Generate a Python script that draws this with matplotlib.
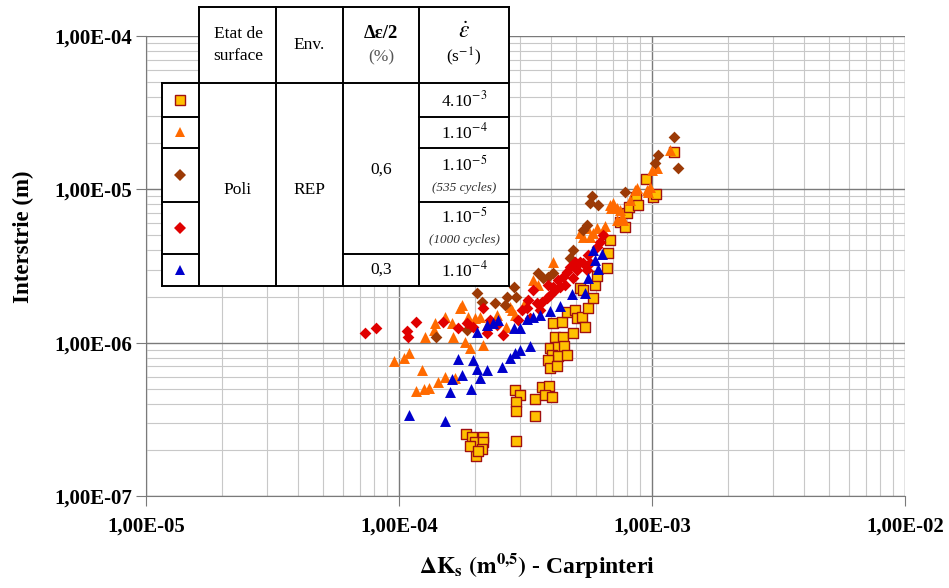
import numpy as np
import matplotlib.pyplot as plt
from matplotlib.ticker import LogLocator, FuncFormatter, NullFormatter
from matplotlib.lines import Line2D

plt.rcParams['font.family'] = 'Liberation Serif'
plt.rcParams['mathtext.fontset'] = 'stix'

# 4.10-3 s-1 (squares)
x_sq = [1.84e-4, 1.94e-4, 2.00e-4, 2.15e-4, 2.15e-4, 2.13e-4, 2.02e-4, 1.91e-4, 2.05e-4,
        2.90e-4, 2.87e-4, 3.01e-4, 2.90e-4, 2.90e-4, 3.45e-4, 3.45e-4,
        3.68e-4, 3.92e-4, 3.78e-4, 4.03e-4,
        3.95e-4, 4.14e-4, 4.45e-4, 4.87e-4, 4.06e-4, 4.41e-4, 4.61e-4, 4.96e-4, 5.05e-4,
        4.25e-4, 4.49e-4, 4.03e-4, 4.25e-4, 4.61e-4, 3.88e-4, 3.95e-4, 4.22e-4,
        5.29e-4, 5.44e-4, 5.59e-4, 5.85e-4, 5.95e-4, 6.06e-4, 5.19e-4, 5.34e-4,
        6.64e-4, 6.70e-4, 6.82e-4,
        7.47e-4, 7.82e-4, 7.96e-4, 8.10e-4, 8.65e-4, 8.80e-4, 9.47e-4, 1.01e-3, 1.04e-3,
        1.22e-3]
y_sq = [2.54e-7, 2.43e-7, 2.25e-7, 2.43e-7, 2.25e-7, 2.02e-7, 1.82e-7, 2.12e-7, 1.96e-7,
        2.29e-7, 4.90e-7, 4.55e-7, 4.10e-7, 3.60e-7, 4.30e-7, 3.32e-7,
        5.15e-7, 5.20e-7, 4.55e-7, 4.40e-7,
        9.20e-7, 1.09e-6, 1.09e-6, 1.16e-6, 1.34e-6, 1.36e-6, 1.58e-6, 1.63e-6, 1.44e-6,
        9.40e-7, 9.50e-7, 8.30e-7, 8.20e-7, 8.30e-7, 7.70e-7, 6.80e-7, 7.00e-7,
        1.47e-6, 1.26e-6, 1.68e-6, 1.96e-6, 2.38e-6, 2.72e-6, 2.28e-6, 2.21e-6,
        3.07e-6, 3.85e-6, 4.67e-6,
        6.10e-6, 5.68e-6, 7.00e-6, 7.70e-6, 8.90e-6, 7.90e-6, 1.17e-5, 8.90e-6, 9.30e-6,
        1.75e-5]

# 1.10-4 s-1, 0,6 % (orange triangles)
x_or = [9.55e-5, 1.05e-4, 1.10e-4, 1.23e-4, 1.17e-4, 1.25e-4, 1.31e-4, 1.42e-4, 1.52e-4, 1.66e-4,
        1.27e-4, 1.37e-4, 1.39e-4, 1.52e-4, 1.62e-4, 1.77e-4, 1.87e-4, 1.63e-4, 1.82e-4, 1.91e-4,
        2.00e-4, 2.09e-4, 2.15e-4, 1.74e-4, 1.96e-4, 2.23e-4, 2.44e-4, 2.75e-4, 2.80e-4, 2.87e-4,
        2.65e-4, 3.15e-4, 3.38e-4, 3.53e-4, 4.06e-4,
        5.19e-4, 5.34e-4, 5.54e-4, 5.69e-4, 5.85e-4, 6.06e-4, 6.40e-4, 6.52e-4,
        6.82e-4, 7.00e-4, 7.27e-4, 7.47e-4, 6.88e-4, 7.61e-4, 7.27e-4, 7.68e-4,
        8.18e-4, 8.57e-4, 8.73e-4, 9.56e-4, 9.82e-4, 9.65e-4, 1.00e-3, 1.05e-3, 1.18e-3]
y_or = [7.60e-7, 7.90e-7, 8.60e-7, 6.60e-7, 4.83e-7, 4.98e-7, 5.07e-7, 5.50e-7, 5.95e-7, 5.90e-7,
        1.09e-6, 1.21e-6, 1.34e-6, 1.47e-6, 1.34e-6, 1.76e-6, 1.47e-6, 1.09e-6, 1.01e-6, 9.20e-7,
        1.44e-6, 1.47e-6, 9.60e-7, 1.68e-6, 1.30e-6, 1.30e-6, 1.51e-6, 1.71e-6, 1.63e-6, 1.51e-6,
        1.26e-6, 1.85e-6, 2.56e-6, 2.38e-6, 3.36e-6,
        5.20e-6, 4.90e-6, 5.60e-6, 4.90e-6, 5.20e-6, 5.60e-6, 5.43e-6, 5.75e-6,
        7.90e-6, 8.20e-6, 7.60e-6, 7.30e-6, 7.60e-6, 6.60e-6, 6.30e-6, 6.30e-6,
        8.50e-6, 9.90e-6, 1.02e-5, 9.90e-6, 1.04e-5, 9.60e-6, 1.34e-5, 1.37e-5, 1.80e-5]

# 1.10-5 s-1, 535 cycles (brown diamonds)
x_br = [1.40e-4, 1.86e-4, 2.04e-4, 2.13e-4, 2.40e-4, 2.62e-4, 2.67e-4, 2.85e-4, 2.90e-4,
        3.55e-4, 3.71e-4, 3.88e-4, 4.06e-4, 4.74e-4, 4.87e-4, 5.34e-4, 5.54e-4,
        5.69e-4, 5.80e-4, 6.11e-4, 7.82e-4, 1.03e-3, 1.06e-3, 1.22e-3, 1.27e-3]
y_br = [1.09e-6, 1.21e-6, 2.11e-6, 1.85e-6, 1.82e-6, 1.76e-6, 1.99e-6, 2.31e-6, 1.99e-6,
        2.85e-6, 2.64e-6, 2.68e-6, 2.85e-6, 3.57e-6, 4.02e-6, 5.43e-6, 5.85e-6,
        8.20e-6, 9.00e-6, 7.90e-6, 9.60e-6, 1.48e-5, 1.67e-5, 2.18e-5, 1.37e-5]

# 1.10-5 s-1, 1000 cycles (red diamonds)
x_rd = [7.35e-5, 8.10e-5, 1.08e-4, 1.09e-4, 1.17e-4, 1.49e-4, 1.71e-4, 1.86e-4, 1.96e-4, 2.15e-4,
        2.23e-4, 2.29e-4, 2.44e-4, 2.58e-4, 2.95e-4, 3.06e-4, 3.21e-4, 3.24e-4, 3.29e-4, 3.38e-4,
        3.51e-4, 3.61e-4, 3.68e-4, 3.85e-4, 3.88e-4, 3.95e-4, 4.06e-4, 4.14e-4, 4.25e-4, 4.33e-4,
        4.45e-4, 4.53e-4, 4.61e-4, 4.74e-4, 4.87e-4, 4.96e-4, 5.05e-4, 5.19e-4, 5.34e-4, 5.54e-4,
        5.59e-4, 5.69e-4, 6.06e-4, 6.23e-4, 6.40e-4]
y_rd = [1.16e-6, 1.25e-6, 1.19e-6, 1.09e-6, 1.36e-6, 1.36e-6, 1.25e-6, 1.34e-6, 1.26e-6, 1.68e-6,
        1.16e-6, 1.40e-6, 1.30e-6, 1.12e-6, 1.40e-6, 1.63e-6, 1.68e-6, 1.90e-6, 1.44e-6, 2.21e-6,
        1.82e-6, 1.63e-6, 1.85e-6, 1.96e-6, 2.38e-6, 2.05e-6, 2.31e-6, 2.21e-6, 2.56e-6, 2.31e-6,
        2.68e-6, 2.38e-6, 2.88e-6, 3.12e-6, 2.64e-6, 3.36e-6, 2.98e-6, 3.36e-6, 3.30e-6, 2.98e-6,
        3.73e-6, 3.30e-6, 4.20e-6, 4.53e-6, 5.04e-6]

# 1.10-4 s-1, 0,3 % (blue triangles)
x_bl = [1.10e-4, 1.52e-4, 1.59e-4, 1.62e-4, 1.71e-4, 1.77e-4, 1.93e-4, 1.96e-4, 2.04e-4, 2.09e-4,
        2.04e-4, 2.23e-4, 2.23e-4, 2.35e-4, 2.46e-4, 2.56e-4, 2.75e-4, 2.87e-4, 3.01e-4, 3.29e-4,
        2.85e-4, 3.01e-4, 3.21e-4, 3.38e-4, 3.61e-4, 3.95e-4, 4.33e-4, 4.83e-4, 5.44e-4, 5.59e-4,
        5.95e-4, 6.11e-4, 5.85e-4, 6.34e-4]
y_bl = [3.37e-7, 3.07e-7, 4.76e-7, 5.80e-7, 7.80e-7, 6.15e-7, 4.98e-7, 7.70e-7, 6.70e-7, 5.90e-7,
        1.17e-6, 6.60e-7, 1.30e-6, 1.34e-6, 1.40e-6, 6.90e-7, 7.95e-7, 8.60e-7, 8.95e-7, 9.45e-7,
        1.25e-6, 1.25e-6, 1.42e-6, 1.47e-6, 1.51e-6, 1.60e-6, 1.73e-6, 2.08e-6, 2.11e-6, 2.64e-6,
        3.46e-6, 3.02e-6, 4.02e-6, 3.78e-6]

W, H = 949, 588
fig = plt.figure(figsize=(W / 100, H / 100), dpi=100)
ax = fig.add_axes([146 / W, 1 - 496 / H, (905 - 146) / W, (496 - 36) / H])

ax.set_xscale('log')
ax.set_yscale('log')
ax.set_xlim(1e-5, 1e-2)
ax.set_ylim(1e-7, 1e-4)

ax.xaxis.set_minor_locator(LogLocator(base=10, subs=np.arange(2, 10)))
ax.yaxis.set_minor_locator(LogLocator(base=10, subs=np.arange(2, 10)))
ax.xaxis.set_minor_formatter(NullFormatter())
ax.yaxis.set_minor_formatter(NullFormatter())
fmt = FuncFormatter(lambda v, p: ('%.2E' % v).replace('.', ','))
ax.xaxis.set_major_formatter(fmt)
ax.yaxis.set_major_formatter(fmt)

ax.grid(which='major', color='#7a7a7a', lw=1.0)
ax.grid(which='minor', color='#c8c8c8', lw=0.8)
ax.set_axisbelow(True)
for s in ['top', 'right']:
    ax.spines[s].set_visible(False)
for s in ['left', 'bottom']:
    ax.spines[s].set_color('#7a7a7a')
ax.tick_params(which='major', length=7, color='#7a7a7a', labelsize=15, pad=3)
ax.tick_params(which='minor', length=0)
for lab in ax.get_xticklabels() + ax.get_yticklabels():
    lab.set_fontweight('bold')
ax.tick_params(axis='x', pad=8)

ax.set_xlabel(r'$\mathbf{\Delta K_{s}}$ $\mathbf{(m^{0{,}5})}$ - Carpinteri', fontsize=17,
              fontweight='bold')
ax.set_ylabel('Interstrie (m)', fontsize=16.5, fontweight='bold')
ax.xaxis.set_label_coords(0.515, -0.12)
ax.yaxis.set_label_coords(-0.148, 0.563)

st_sq = dict(marker='s', s=46, c='#FFC000', edgecolors='#A01010', linewidths=1.0)
st_or = dict(marker='^', s=62, c='#FF6A00', linewidths=0)
st_br = dict(marker='D', s=36, c='#9C3A06', linewidths=0)
st_rd = dict(marker='D', s=36, c='#E00000', linewidths=0)
st_bl = dict(marker='^', s=62, c='#0000CC', linewidths=0)

ax.scatter(x_sq, y_sq, zorder=3, **st_sq)
ax.scatter(x_or, y_or, zorder=4, **st_or)
ax.scatter(x_br, y_br, zorder=5, **st_br)
ax.scatter(x_rd, y_rd, zorder=6, **st_rd)
ax.scatter(x_bl, y_bl, zorder=7, **st_bl)


# table drawn in figure pixel coordinates
def P(x, y):
    return x / W, 1 - y / H


def seg(x0, y0, x1, y1):
    fig.add_artist(Line2D([x0 / W, x1 / W], [1 - y0 / H, 1 - y1 / H], color='black', lw=1.4,
                          transform=fig.transFigure, zorder=20))


def txt(x, y, s, **kw):
    kw.setdefault('fontsize', 12.5)
    fig.text(x / W, 1 - y / H, s, ha='center', va='center', zorder=21, **kw)


bg = plt.Rectangle(P(199, 83), (509 - 199) / W, (83 - 7) / H, transform=fig.transFigure,
                   facecolor='white', edgecolor='none', zorder=19)
fig.add_artist(bg)
bg2 = plt.Rectangle(P(162, 286), (509 - 162) / W, (286 - 83) / H, transform=fig.transFigure,
                    facecolor='white', edgecolor='none', zorder=19)
fig.add_artist(bg2)

cols = [199, 276, 343, 419, 509]
seg(199, 7, 509, 7)
seg(162, 83, 509, 83)
seg(162, 286, 509, 286)
for c in cols:
    seg(c, 7, c, 286)
seg(162, 83, 162, 286)
rows = [117, 148, 202, 254]
for r in rows:
    seg(162, r, 199, r)
    seg(419, r, 509, r)
seg(343, 254, 419, 254)

txt(238, 45, 'Etat de\nsurface', linespacing=1.45)
txt(309, 45, 'Env.')
txt(381, 34, 'Δε/2', fontweight='bold', fontsize=13.5)
txt(381, 57, '(%)', color='#555555')
txt(464, 33, r'$\dot{\varepsilon}$', fontsize=17)
txt(464, 57, '(s$^{-1}$)')
txt(238, 190, 'Poli')
txt(309, 190, 'REP')
txt(381, 170, '0,6')
txt(381, 270, '0,3')
txt(464, 100, '4.10$^{-3}$')
txt(464, 132, '1.10$^{-4}$')
txt(464, 165, '1.10$^{-5}$')
txt(464, 188, '(535 cycles)', fontsize=9.5, style='italic', color='#333333')
txt(464, 217, '1.10$^{-5}$')
txt(464, 240, '(1000 cycles)', fontsize=9.5, style='italic', color='#333333')
txt(464, 270, '1.10$^{-4}$')

for yy, st in zip([100, 132, 175, 228, 270], [st_sq, st_or, st_br, st_rd, st_bl]):
    fig.add_artist(Line2D([180 / W], [1 - yy / H], marker=st['marker'],
                          markersize=np.sqrt(st['s']), linestyle='none',
                          markerfacecolor=st['c'],
                          markeredgecolor=st.get('edgecolors', st['c']),
                          markeredgewidth=st['linewidths'],
                          transform=fig.transFigure, zorder=22))

fig.savefig('out.png', dpi=100)
